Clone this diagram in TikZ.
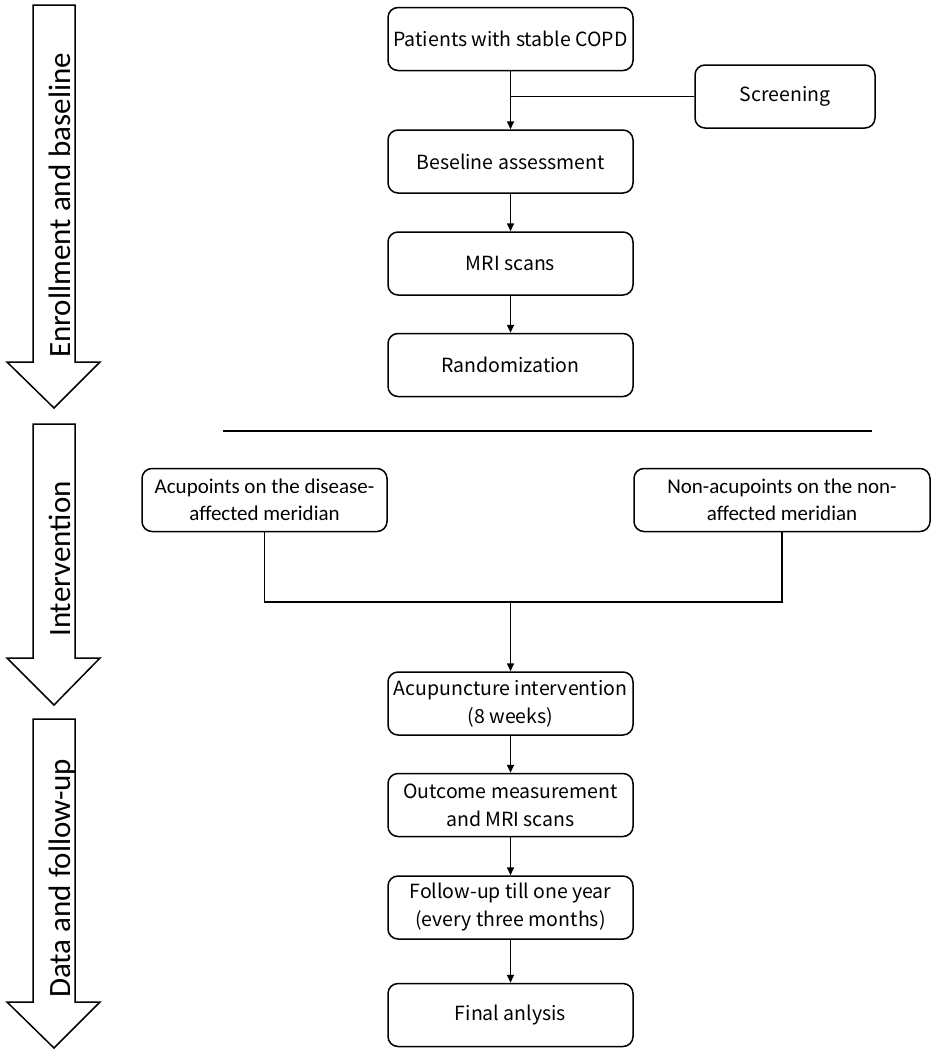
\documentclass[tikz,border=0pt]{standalone}
\usepackage{fontspec}
\setmainfont{Noto Sans CJK SC}
\newfontfamily\calfont{Carlito}
\usetikzlibrary{arrows.meta}
\begin{document}
\begin{tikzpicture}[x=1pt,y=-1pt,
  box/.style={draw, line width=1.5pt, rounded corners=10pt, minimum width=245pt,
    minimum height=63pt, inner sep=0pt, align=center, fill=white,
    font=\fontsize{19.5}{28}\selectfont},
  ibox/.style={box, font=\calfont\fontsize{21}{27}\selectfont},
  conn/.style={line width=1.5pt},
  arr/.style={conn, -{Triangle[length=8pt,width=7pt]}},
  phase/.style={draw, line width=1.5pt, fill=white, line join=miter},
  phasetext/.style={rotate=90, anchor=base west, inner sep=0pt,
    font=\calfont\fontsize{31}{31}\selectfont}]
\useasboundingbox (0,0) rectangle (935,1055);
\fill[white] (0,0) rectangle (935,1055);

% phase arrows
\draw[phase] (33,5) -- (75,5) -- (75,362) -- (100,362) -- (54,408) -- (7,362) -- (33,362) -- cycle;
\node[phasetext] (t1) at (70,358) {Enrollment and baseline};
\draw[phase] (33,424) -- (75,424) -- (75,658) -- (100,658) -- (54,705) -- (7,658) -- (33,658) -- cycle;
\node[phasetext] (t2) at (70,637) {Intervention};
\draw[phase] (33,719) -- (75,719) -- (75,1002) -- (100,1002) -- (54,1048) -- (7,1002) -- (33,1002) -- cycle;
\node[phasetext] (t3) at (70,998) {Data and follow-up};

% boxes
\node[box] (pat) at (510.5,39) {Patients with stable COPD};
\node[box, minimum width=180pt] (scr) at (785,96.5) {Screening};
\node[box] (bas) at (510.5,161.5) {Beseline assessment};
\node[box] (mri) at (510.5,263.5) {MRI scans};
\node[box] (ran) at (510.5,365) {Randomization};

\coordinate (sepL) at (223,431);
\coordinate (sepR) at (872,431);
\draw[conn] (sepL) -- (sepR);

\node[ibox] (lft) at (264.5,500) {Acupoints on the disease-\\affected meridian};
\node[ibox, minimum width=296pt] (rgt) at (782,500) {Non-acupoints on the non-\\affected meridian};

\node[box] (acu) at (510.5,703.5) {Acupuncture intervention\\(8 weeks)};
\node[box] (out) at (510.5,805) {Outcome measurement\\and MRI scans};
\node[box] (fol) at (510.5,907.5) {Follow-up till one year\\(every three months)};
\node[box] (fin) at (510.5,1015) {Final anlysis};

% connectors
\coordinate (js) at (pat.south |- scr.west);
\draw[conn] (scr.west) -- (js);
\draw[arr] (pat.south) -- (bas.north);
\draw[arr] (bas.south) -- (mri.north);
\draw[arr] (mri.south) -- (ran.north);

\coordinate (jm) at (510.5,602);
\draw[conn] (lft.south) |- (jm) -| (rgt.south);
\draw[arr] (jm) -- (acu.north);
\draw[arr] (acu.south) -- (out.north);
\draw[arr] (out.south) -- (fol.north);
\draw[arr] (fol.south) -- (fin.north);
\end{tikzpicture}
\end{document}
